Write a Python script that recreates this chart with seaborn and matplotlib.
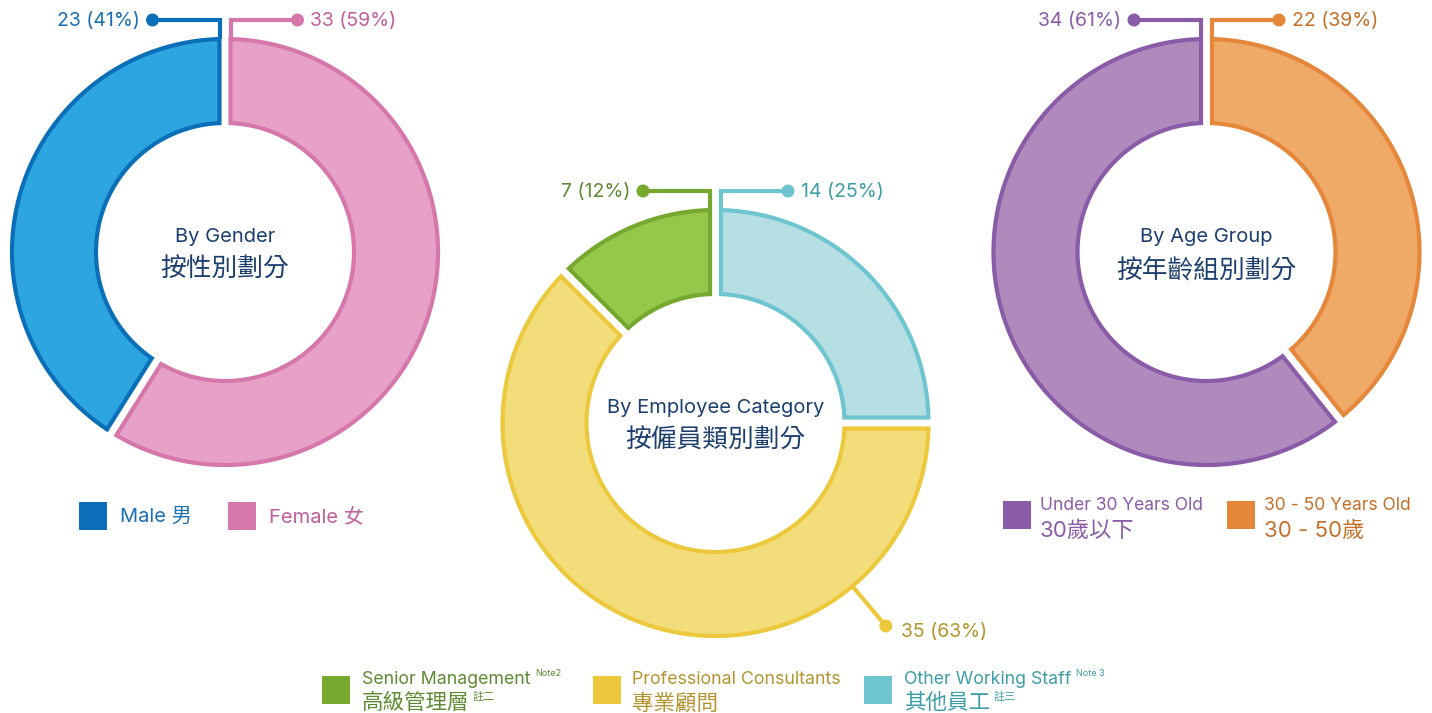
import numpy as np
import matplotlib
matplotlib.use("Agg")
import matplotlib.pyplot as plt
from matplotlib.patches import Polygon, Circle, Rectangle
import seaborn as sns

# ---------------- data ----------------
titles_en = ["By Gender", "By Employee Category", "By Age Group"]
titles_zh = ["按性別劃分", "按僱員類別劃分", "按年齡組別劃分"]

gender_labels_en = ["Male", "Female"]
gender_labels_zh = ["男", "女"]
gender_values = [23, 33]
gender_pct = ["41%", "59%"]

category_labels_en = ["Senior Management", "Professional Consultants", "Other Working Staff"]
category_notes_en = ["Note2", "", "Note 3"]
category_labels_zh = ["高級管理層", "專業顧問", "其他員工"]
category_notes_zh = ["註二", "", "註三"]
category_values = [7, 35, 14]
category_pct = ["12%", "63%", "25%"]

age_labels_en = ["Under 30 Years Old", "30 - 50 Years Old"]
age_labels_zh = ["30歲以下", "30 - 50歲"]
age_values = [34, 22]
age_pct = ["61%", "39%"]

# ---------------- style ----------------
sns.set_theme(style="white")
FONT = ["Inter", "Noto Sans CJK TC", "DejaVu Sans"]
plt.rcParams["font.family"] = FONT

NAVY = "#1D3F6E"
gender_fill = ["#2DA5E0", "#E8A1C6"]
gender_edge = ["#0A6FB8", "#D677AB"]
gender_text = ["#1A70B5", "#C0609B"]
category_fill = ["#96C64A", "#F3DC7A", "#B6DFE3"]
category_edge = ["#76A72F", "#ECC93C", "#6EC5D0"]
category_text = ["#5E8A33", "#B39530", "#3E9DA6"]
age_fill = ["#B08ABD", "#F0AA68"]
age_edge = ["#8A5CA8", "#E5873A"]
age_text = ["#8A5CA8", "#C4702A"]

W, H = 1432, 713
fig = plt.figure(figsize=(W / 100, H / 100), dpi=100)
ax = fig.add_axes([0, 0, 1, 1])
ax.set_xlim(0, W)
ax.set_ylim(H, 0)
ax.axis("off")

LW = 3.0          # stroke width (pt)
R_OUT = 213.0     # outer path radius (px)
R_IN = 129.0      # inner path radius (px)
GAP = 5.5         # half gap (px)


def ring_slice(cx, cy, t1, t2, fc, ec):
    a_o = np.degrees(np.arcsin(GAP / R_OUT))
    a_i = np.degrees(np.arcsin(GAP / R_IN))
    to = np.radians(np.linspace(t1 + a_o, t2 - a_o, 300))
    ti = np.radians(np.linspace(t2 - a_i, t1 + a_i, 300))
    xs = np.r_[cx + R_OUT * np.cos(to), cx + R_IN * np.cos(ti)]
    ys = np.r_[cy - R_OUT * np.sin(to), cy - R_IN * np.sin(ti)]
    ax.add_patch(Polygon(np.c_[xs, ys], closed=True, fc=fc, ec=ec, lw=LW,
                         joinstyle="miter", zorder=2))


def donut(cx, cy, values, pcts, fills, edges, texts, title_en, title_zh,
          radial_angle=-50):
    total = float(sum(values))
    start = 90.0
    n = len(values)
    for i, v in enumerate(values):
        span = v / total * 360.0
        t1, t2 = start, start + span
        ring_slice(cx, cy, t1, t2, fills[i], edges[i])
        label = f"{v} ({pcts[i]})"
        if i == 0 or i == n - 1:
            side = -1 if i == 0 else 1
            x0 = cx + side * GAP
            y0 = cy - np.sqrt(R_OUT ** 2 - GAP ** 2)
            ly = cy - R_OUT - 19
            xd = x0 + side * 67
            ax.plot([x0, x0, xd], [y0, ly, ly], color=edges[i], lw=LW,
                    solid_joinstyle="miter", solid_capstyle="butt", zorder=3)
            ax.add_patch(Circle((xd, ly), 5.8, color=edges[i], zorder=4))
            ax.text(xd + side * 13, ly + 1, label, color=texts[i], fontsize=14,
                    ha="left" if side > 0 else "right", va="center")
        else:
            th = np.radians(radial_angle)
            xa, ya = cx + R_OUT * np.cos(th), cy - R_OUT * np.sin(th)
            xb, yb = cx + (R_OUT + 52) * np.cos(th), cy - (R_OUT + 52) * np.sin(th)
            ax.plot([xa, xb], [ya, yb], color=edges[i], lw=LW,
                    solid_capstyle="butt", zorder=3)
            ax.add_patch(Circle((xb, yb), 5.8, color=edges[i], zorder=4))
            ax.text(xb + 15, yb + 6, label, color=texts[i], fontsize=14,
                    ha="left", va="center")
        start = t2
    ax.text(cx, cy - 15, title_en, color=NAVY, fontsize=14.5, ha="center", va="center")
    ax.text(cx, cy + 18, title_zh, color=NAVY, fontsize=18.5, ha="center", va="center")


donut(225, 252, gender_values, gender_pct, gender_fill, gender_edge, gender_text,
      titles_en[0], titles_zh[0])
donut(715.5, 423, category_values, category_pct, category_fill, category_edge,
      category_text, titles_en[1], titles_zh[1])
donut(1206.5, 252, age_values, age_pct, age_fill, age_edge, age_text,
      titles_en[2], titles_zh[2])

renderer = fig.canvas.get_renderer()

# ---------------- legends ----------------
for i, (x_sq, x_tx) in enumerate([(79, 120), (228, 269)]):
    ax.add_patch(Rectangle((x_sq, 502), 28, 28, color=gender_edge[i], lw=0))
    ax.text(x_tx, 517, f"{gender_labels_en[i]} {gender_labels_zh[i]}",
            color=gender_text[i], fontsize=14.5, ha="left", va="center")

for i, (x_sq, x_tx) in enumerate([(1003, 1040), (1227, 1264)]):
    ax.add_patch(Rectangle((x_sq, 501), 28, 28, color=age_edge[i], lw=0))
    ax.text(x_tx, 505, age_labels_en[i], color=age_text[i], fontsize=12.6,
            ha="left", va="center")
    ax.text(x_tx, 531, age_labels_zh[i], color=age_text[i], fontsize=16,
            ha="left", va="center")

for i, (x_sq, x_tx) in enumerate([(322, 362), (593, 632), (864, 904)]):
    ax.add_patch(Rectangle((x_sq, 676), 28, 28, color=category_edge[i], lw=0))
    t1 = ax.text(x_tx, 679, category_labels_en[i], color=category_text[i],
                 fontsize=12.8, ha="left", va="center")
    t2 = ax.text(x_tx, 703, category_labels_zh[i], color=category_text[i],
                 fontsize=15.5, ha="left", va="center")
    if category_notes_en[i]:
        bb = t1.get_window_extent(renderer)
        ax.text(bb.x1 + 5, 674, category_notes_en[i], color=category_text[i],
                fontsize=6.5, ha="left", va="center")
    if category_notes_zh[i]:
        bb = t2.get_window_extent(renderer)
        ax.text(bb.x1 + 3, 697, category_notes_zh[i], color=category_text[i],
                fontsize=8, ha="left", va="center")

fig.savefig("out.png", dpi=100)
